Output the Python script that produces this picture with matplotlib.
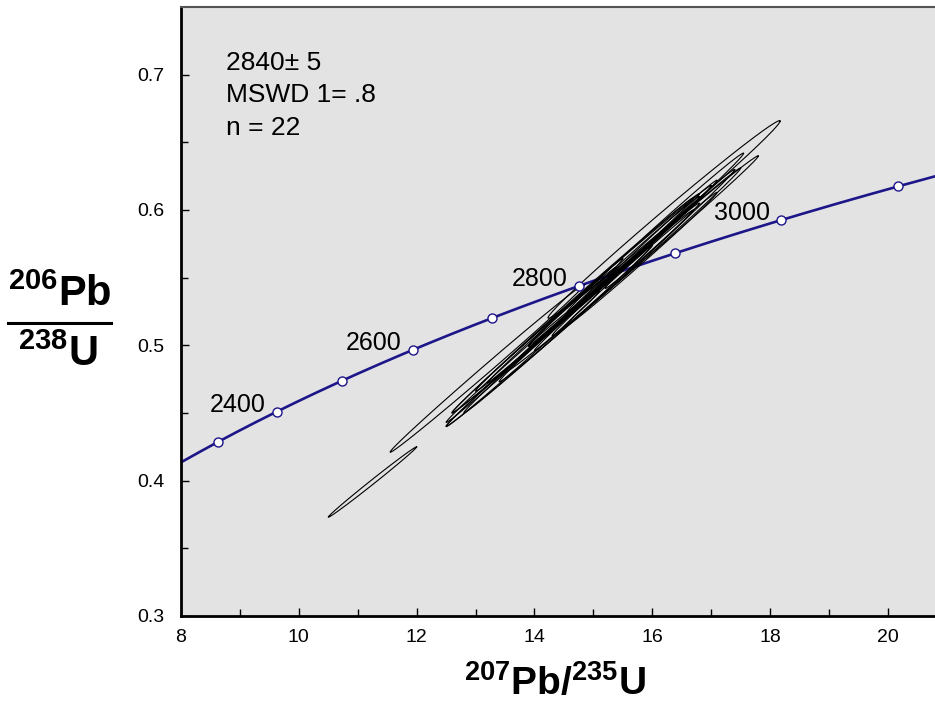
import numpy as np
import matplotlib
matplotlib.use("Agg")
import matplotlib.pyplot as plt
from matplotlib.lines import Line2D

plt.rcParams['font.family'] = ['Liberation Sans', 'DejaVu Sans']
plt.rcParams['mathtext.fontset'] = 'custom'
plt.rcParams['mathtext.rm'] = 'Liberation Sans'
plt.rcParams['mathtext.bf'] = 'Liberation Sans:bold'

# Decay constants (per year)
LAMBDA_238 = 1.55125e-10
LAMBDA_235 = 9.8485e-10

# Concordia age markers (Ma) and labelled ages
marker_ages = [2300, 2400, 2500, 2600, 2700, 2800, 2900, 3000, 3100, 3200]
label_ages = [2400, 2600, 2800, 3000]

# Analyses: 207Pb/235U, 206Pb/238U, 2-sigma half extents, error correlation
ell_x = [11.25, 13.20, 16.20, 15.65, 16.05, 15.90, 14.80, 14.60, 14.90, 15.10, 15.30,
         14.40, 14.00, 13.80, 15.60, 15.80, 16.10, 13.60, 14.20, 15.00, 16.30, 14.70]
ell_y = [0.399, 0.483, 0.593, 0.560, 0.583, 0.569, 0.534, 0.520, 0.539, 0.539, 0.554,
         0.512, 0.504, 0.490, 0.563, 0.563, 0.582, 0.486, 0.511, 0.535, 0.586, 0.532]
ell_sx = [0.75, 1.65, 1.97, 2.15, 1.50, 1.60, 2.20, 2.10, 1.90, 1.70, 1.40,
          1.60, 1.40, 1.30, 1.20, 1.30, 1.00, 1.10, 1.00, 1.00, 1.10, 0.80]
ell_sy = [0.026, 0.062, 0.073, 0.080, 0.059, 0.062, 0.084, 0.080, 0.073, 0.066, 0.055,
          0.062, 0.054, 0.050, 0.047, 0.050, 0.040, 0.043, 0.039, 0.039, 0.044, 0.032]
ell_rho = [0.9970, 0.9980, 0.9955, 0.9982, 0.9972, 0.9978, 0.9985, 0.9985, 0.9982, 0.9980, 0.9978,
           0.9982, 0.9980, 0.9980, 0.9975, 0.9975, 0.9970, 0.9978, 0.9975, 0.9970, 0.9970, 0.9968]

summary_lines = ["2840\u00b1 5", "MSWD 1= .8", "n = 22"]

NAVY = "#1d1689"

W, H = 935, 713
fig = plt.figure(figsize=(W / 100, H / 100), dpi=100)
ax = fig.add_axes([181 / W, (H - 616) / H, (935 - 181) / W, (616 - 7) / H])
ax.set_facecolor("#e3e3e3")
ax.set_xlim(8, 20.8)
ax.set_ylim(0.3, 0.75)


def concordia(age_ma):
    t = np.asarray(age_ma, dtype=float) * 1e6
    return np.exp(LAMBDA_235 * t) - 1, np.exp(LAMBDA_238 * t) - 1


# Concordia curve
ages = np.linspace(1500, 3400, 600)
cx, cy = concordia(ages)
ax.plot(cx, cy, color=NAVY, lw=1.9, zorder=2)
mx, my = concordia(marker_ages)
ax.plot(mx, my, 'o', ms=6.5, mfc='white', mec=NAVY, mew=1.0, zorder=4)
for a in label_ages:
    lx, ly = concordia(a)
    ax.annotate(str(a), (lx, ly), xytext=(-8.5, 5), textcoords='offset points',
                ha='right', va='center', fontsize=18, zorder=5)

# Error ellipses
theta = np.linspace(0, 2 * np.pi, 300)
for x0, y0, sx, sy, r in zip(ell_x, ell_y, ell_sx, ell_sy, ell_rho):
    cov = np.array([[sx * sx, r * sx * sy], [r * sx * sy, sy * sy]])
    L = np.linalg.cholesky(cov)
    pts = L @ np.vstack([np.cos(theta), np.sin(theta)])
    ax.plot(x0 + pts[0], y0 + pts[1], color='black', lw=0.8, zorder=3)

# Axes styling
ax.set_xticks(np.arange(8, 21, 2))
ax.set_xticks(np.arange(9, 21, 2), minor=True)
ax.set_yticks([0.3, 0.4, 0.5, 0.6, 0.7])
ax.set_yticks([0.35, 0.45, 0.55, 0.65], minor=True)
ax.set_yticklabels(["0.3", "0.4", "0.5", "0.6", "0.7"])
ax.tick_params(which='both', direction='in', width=1.0, labelsize=14)
ax.tick_params(which='major', length=6)
ax.tick_params(which='minor', length=5)
ax.tick_params(axis='x', pad=9)
ax.tick_params(axis='y', pad=12)
for s in ('left', 'bottom'):
    ax.spines[s].set_linewidth(2.0)
    ax.spines[s].set_color('black')
ax.spines['top'].set_linewidth(1.5)
ax.spines['top'].set_color('#555555')
ax.spines['right'].set_visible(False)

# Summary text
for i, line in enumerate(summary_lines):
    fig.text(226 / W, 1 - (63 + 32.5 * i) / H, line, fontsize=19, ha='left', va='center')

# Axis titles
fig.text(555 / W, 1 - 684 / H, r'$\mathbf{^{207}Pb/^{235}U}$', fontsize=28,
         ha='center', va='center')
fig.text(60 / W, 1 - 295 / H, r'$\mathbf{^{206}Pb}$', fontsize=30, ha='center', va='center')
fig.text(58 / W, 1 - 355 / H, r'$\mathbf{^{238}U}$', fontsize=30, ha='center', va='center')
fig.add_artist(Line2D([8 / W, 111 / W], [1 - 323 / H, 1 - 323 / H], color='black', lw=2.2))

fig.savefig("out.png", dpi=100)
